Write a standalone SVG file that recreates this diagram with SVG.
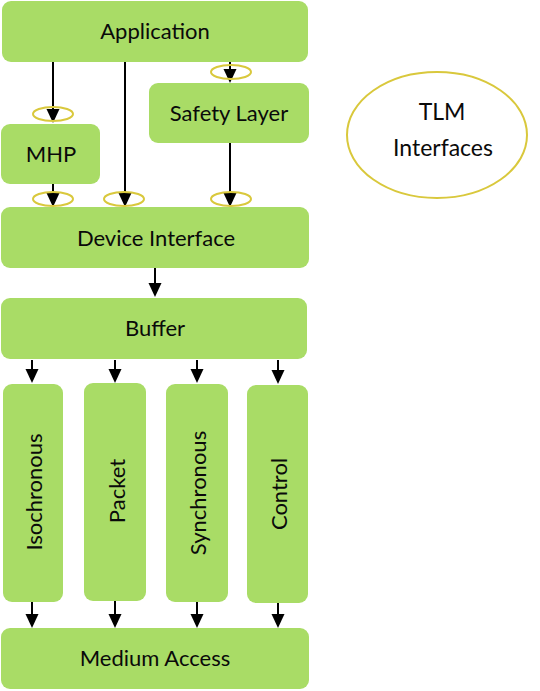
<svg xmlns="http://www.w3.org/2000/svg" width="540" height="691" viewBox="0 0 540 691">
<defs>
<path id="ah" d="M-6.5,-14 L6.5,-14 L0,0 Z" fill="#000"/>
</defs>
<style>
.box{fill:#a9dc66;stroke:none}
.t{font-family:Lato,"Open Sans",sans-serif;font-size:22px;fill:#0a0a0a;text-anchor:middle;dominant-baseline:central}
.ln{stroke:#000;stroke-width:2;fill:none}
.tlm{fill:none;stroke:#d9c83c;stroke-width:2}
</style>
<rect width="540" height="691" fill="#fff"/>
<g id="connectors">
<line class="ln" x1="53" y1="62" x2="53" y2="112"/>
<line class="ln" x1="125" y1="62" x2="125" y2="196"/>
<line class="ln" x1="230" y1="62" x2="230" y2="72"/>
<line class="ln" x1="53" y1="184" x2="53" y2="196"/>
<line class="ln" x1="230" y1="143" x2="230" y2="196"/>
<line class="ln" x1="155" y1="268" x2="155" y2="286"/>
<line class="ln" x1="32" y1="360" x2="32" y2="372"/>
<line class="ln" x1="115" y1="360" x2="115" y2="372"/>
<line class="ln" x1="197" y1="360" x2="197" y2="372"/>
<line class="ln" x1="278" y1="360" x2="278" y2="373"/>
<line class="ln" x1="32" y1="602" x2="32" y2="616"/>
<line class="ln" x1="115" y1="601" x2="115" y2="616"/>
<line class="ln" x1="197" y1="602" x2="197" y2="616"/>
<line class="ln" x1="278" y1="603" x2="278" y2="616"/>
<use href="#ah" x="53" y="123"/>
<use href="#ah" x="125" y="207"/>
<use href="#ah" x="230" y="83"/>
<use href="#ah" x="53" y="207"/>
<use href="#ah" x="230" y="207"/>
<use href="#ah" x="155" y="297"/>
<use href="#ah" x="32" y="383"/>
<use href="#ah" x="115" y="383"/>
<use href="#ah" x="197" y="383"/>
<use href="#ah" x="278" y="384"/>
<use href="#ah" x="32" y="628"/>
<use href="#ah" x="115" y="628"/>
<use href="#ah" x="197" y="628"/>
<use href="#ah" x="278" y="628"/>
<g class="tlm">
<ellipse cx="53" cy="114" rx="20" ry="7"/>
<ellipse cx="231" cy="72" rx="20" ry="7"/>
<ellipse cx="53" cy="199" rx="20" ry="7"/>
<ellipse cx="124" cy="199" rx="20" ry="7"/>
<ellipse cx="231" cy="199" rx="20" ry="7"/>
</g>
</g>
<g id="application"><rect class="box" x="2" y="1" width="306" height="61" rx="9"/><text class="t" x="155" y="30">Application</text></g>
<g id="safety"><rect class="box" x="149" y="83" width="160" height="60" rx="9"/><text class="t" x="229" y="112">Safety Layer</text></g>
<g id="mhp"><rect class="box" x="1" y="124" width="99" height="60" rx="9"/><text class="t" x="51" y="153">MHP</text></g>
<g id="device"><rect class="box" x="1" y="207" width="308" height="61" rx="9"/><text class="t" x="156" y="237">Device Interface</text></g>
<g id="buffer"><rect class="box" x="1" y="298" width="306" height="61" rx="9"/><text class="t" x="155" y="327">Buffer</text></g>
<g id="isochronous"><rect class="box" x="3" y="384" width="60" height="218" rx="9"/><text class="t" transform="translate(33,492) rotate(-90)">Isochronous</text></g>
<g id="packet"><rect class="box" x="84" y="383" width="62" height="218" rx="9"/><text class="t" transform="translate(116,491) rotate(-90)">Packet</text></g>
<g id="synchronous"><rect class="box" x="166" y="384" width="62" height="218" rx="9"/><text class="t" transform="translate(197,493) rotate(-90)">Synchronous</text></g>
<g id="control"><rect class="box" x="247" y="385" width="61" height="218" rx="9"/><text class="t" transform="translate(278,494) rotate(-90)">Control</text></g>
<g id="medium"><rect class="box" x="1" y="628" width="308" height="61" rx="9"/><text class="t" x="155" y="657">Medium Access</text></g>
<g id="tlm"><ellipse class="tlm" cx="437" cy="135" rx="90" ry="63"/><text class="t" style="font-size:23px" x="442" y="111">TLM</text><text class="t" style="font-size:23px" x="443" y="147">Interfaces</text></g>
</svg>
